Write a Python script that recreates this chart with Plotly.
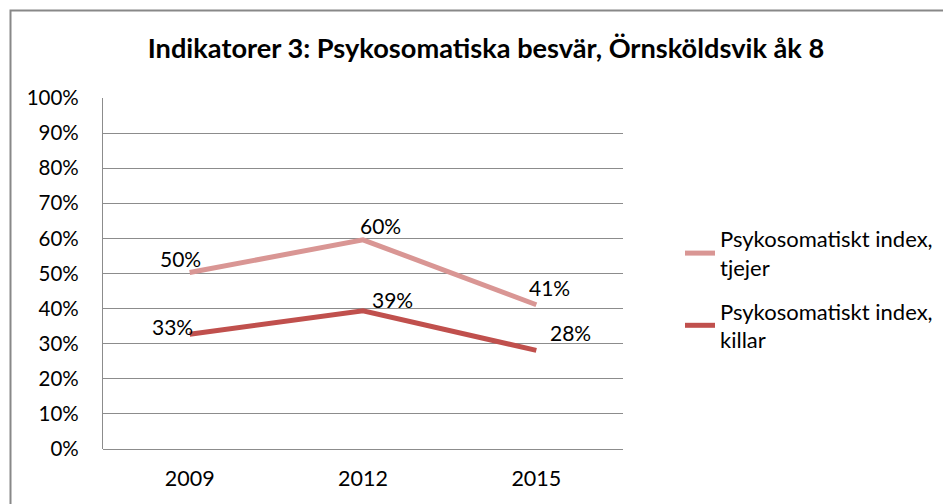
import plotly.graph_objects as go

# ---- data ----
years = ["2009", "2012", "2015"]
tjejer = [0.503, 0.596, 0.411]
killar = [0.327, 0.394, 0.281]
series_names = ["Psykosomatiskt index,<br>tjejer", "Psykosomatiskt index,<br>killar"]
y_ticks = [0, 0.1, 0.2, 0.3, 0.4, 0.5, 0.6, 0.7, 0.8, 0.9, 1.0]
y_tick_labels = ["0%", "10%", "20%", "30%", "40%", "50%", "60%", "70%", "80%", "90%", "100%"]
title_text = "Indikatorer 3: Psykosomatiska besvär, Örnsköldsvik åk 8"

# ---- style / layout (page px; the html body has an 8px margin) ----
OFF = 8
W, H = 951 - OFF, 504 - OFF
PL, PR, PT, PB = 103, 623, 98, 449  # plot area in page px
ML, MR, MT, MB = PL - OFF, W - (PR - OFF), PT - OFF, H - (PB - OFF)
FONT = "Lato"
colors = ["#D99694", "#C0504D"]
grid = "#8C8C8C"
# label offsets (px) relative to each point
offs_tjejer = [(-9, 14), (17, 14), (13, 17)]
offs_killar = [(-17, 8), (29, 11), (34, 18)]

fig = go.Figure()
for vals, name, col in [(tjejer, series_names[0], colors[0]), (killar, series_names[1], colors[1])]:
    fig.add_trace(go.Scatter(x=years, y=vals, mode="lines", name=name,
                             line=dict(color=col, width=5), legendgroup=name))

annotations = []
for vals, offs in [(tjejer, offs_tjejer), (killar, offs_killar)]:
    for i, (v, (dx, dy)) in enumerate(zip(vals, offs)):
        annotations.append(dict(x=i, y=v, xref="x", yref="y", text=f"{round(v*100)}%",
                                showarrow=False, xshift=dx, yshift=dy,
                                font=dict(family=FONT, size=21, color="#000")))

pw = PR - PL
ph = PB - PT
fx = lambda px: (px - PL) / pw
fy = lambda py: (PB - py) / ph

fig.update_layout(
    width=W, height=H,
    margin=dict(l=ML, r=MR, t=MT, b=MB),
    paper_bgcolor="white", plot_bgcolor="white",
    font=dict(family=FONT, size=20, color="#000"),
    title=dict(text=f"<b>{title_text}</b>", x=(486 - OFF) / W, xanchor="center", xref="container",
               y=1 - (48 - OFF) / H, yanchor="middle", yref="container",
               font=dict(family=FONT, size=27.2, color="#000")),
    xaxis=dict(type="category", range=[-0.5, 2.5], showgrid=False, showline=False,
               zeroline=False, ticks="", tickfont=dict(size=21.5), ticklabelstandoff=14),
    yaxis=dict(range=[0, 1], tickvals=y_ticks, ticktext=y_tick_labels, showgrid=True,
               gridcolor=grid, gridwidth=1.3, showline=True, linecolor=grid, linewidth=1.3,
               zeroline=True, zerolinecolor=grid, zerolinewidth=1.3, ticks="",
               tickfont=dict(size=20.5), ticklabelstandoff=19),
    legend=dict(x=fx(680), y=fy(218), xanchor="left", yanchor="top",
                font=dict(family=FONT, size=22), tracegroupgap=12,
                bgcolor="rgba(0,0,0,0)"),
    annotations=annotations,
    shapes=[dict(type="rect", xref="paper", yref="paper",
                 x0=fx(10.5), x1=fx(951 + 20), y0=fy(504 + 20), y1=fy(10.5),
                 line=dict(color="#888888", width=2), fillcolor="rgba(0,0,0,0)", layer="below")],
)

fig.write_html("out.html")
